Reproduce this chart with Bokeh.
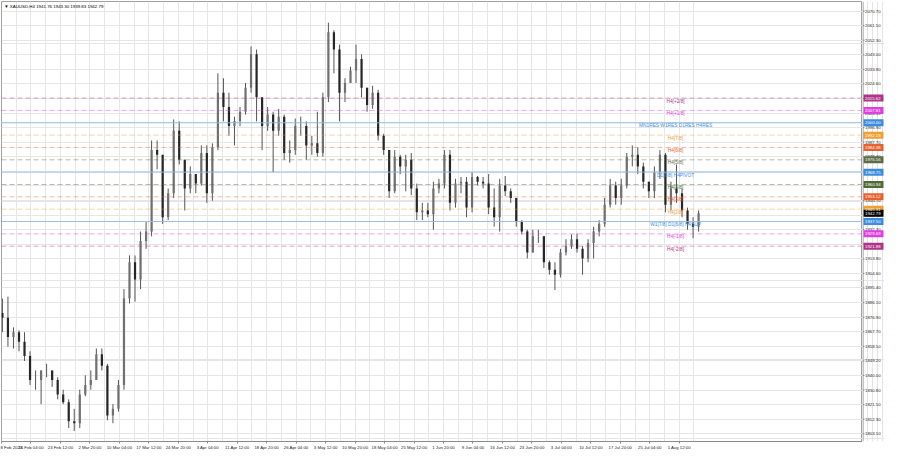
from bokeh.plotting import figure
from bokeh.layouts import row
from bokeh.models import Range1d, FixedTicker, Span, Label, ColumnDataSource, Grid
from bokeh.core.properties import value
from bokeh.embed import file_html
from bokeh.resources import INLINE

# ---- XAUUSD price path (one candle per trading day) ----
first_open = 1879.6
high = [1888.7, 1889.9, 1870.5, 1868.6, 1867.4, 1855.3, 1843.2, 1843.2, 1847.4, 1843.2,
        1838.9, 1831.0, 1824.9, 1818.9, 1831.0, 1840.1, 1843.2, 1857.1, 1857.1, 1847.4,
        1821.9, 1837.1, 1894.7, 1916.0, 1916.0, 1931.1, 1937.2, 1988.8, 1988.8, 1979.7,
        1958.4, 2002.1, 2000.9, 1976.6, 1972.4, 1967.5, 1985.7, 1985.7, 1987.0, 2031.3,
        2028.2, 2019.1, 2003.9, 2010.0, 2025.2, 2048.3, 2046.4, 2016.1, 2010.0, 2007.0,
        2008.8, 2005.2, 1988.8, 2002.7, 2003.9, 2000.9, 1991.8, 2007.0, 2019.1, 2063.4,
        2058.6, 2049.5, 2028.2, 2035.5, 2049.5, 2043.4, 2022.2, 2023.4, 2020.9, 1993.0,
        1982.7, 1982.7, 1979.7, 1979.7, 1980.9, 1961.5, 1949.3, 1949.3, 1962.7, 1964.5,
        1982.7, 1982.7, 1964.5, 1965.7, 1965.7, 1968.8, 1966.3, 1965.7, 1967.5, 1958.4,
        1964.5, 1966.3, 1958.4, 1952.4, 1938.4, 1932.3, 1932.3, 1932.3, 1928.1, 1912.9,
        1911.7, 1920.2, 1926.3, 1929.3, 1929.9, 1922.0, 1926.3, 1934.2, 1938.4, 1952.4,
        1964.5, 1962.7, 1964.5, 1980.9, 1985.7, 1984.5, 1974.8, 1962.7, 1972.4, 1982.7,
        1980.9, 1962.7, 1973.6, 1958.4, 1946.3, 1940.2, 1944.5]
low = [1867.4, 1858.3, 1857.1, 1855.3, 1849.2, 1834.0, 1831.0, 1821.9, 1838.9, 1832.8,
       1824.9, 1821.9, 1806.7, 1804.9, 1806.7, 1826.8, 1831.0, 1837.1, 1843.2, 1811.6,
       1809.8, 1817.1, 1831.0, 1885.6, 1886.8, 1894.7, 1920.2, 1928.1, 1970.6, 1936.0,
       1938.4, 1952.4, 1973.6, 1944.5, 1955.4, 1955.4, 1960.3, 1949.3, 1950.6, 1982.7,
       2000.9, 1991.8, 1985.7, 1997.9, 2005.2, 2019.1, 2000.9, 1982.7, 1994.9, 1968.8,
       1991.8, 1976.6, 1974.8, 1979.7, 1991.8, 1976.6, 1979.7, 1978.5, 1978.5, 2013.1,
       2031.3, 2000.9, 2013.1, 2025.2, 2025.2, 2016.1, 2007.0, 2008.8, 1988.8, 1979.7,
       1952.4, 1955.4, 1967.5, 1956.6, 1954.2, 1938.4, 1938.4, 1940.2, 1932.3, 1955.4,
       1958.4, 1944.5, 1946.3, 1955.4, 1940.2, 1943.3, 1960.3, 1958.4, 1942.1, 1934.2,
       1931.1, 1953.6, 1949.3, 1934.2, 1929.3, 1914.1, 1917.8, 1923.9, 1908.1, 1903.8,
       1894.1, 1902.0, 1916.0, 1920.2, 1917.8, 1903.8, 1911.7, 1914.1, 1928.1, 1934.2,
       1946.3, 1948.1, 1948.1, 1958.4, 1972.4, 1967.5, 1958.4, 1952.4, 1952.4, 1964.5,
       1943.3, 1944.5, 1949.3, 1940.2, 1932.3, 1926.9, 1931.1]
close = [1876.5, 1864.4, 1867.4, 1861.4, 1852.3, 1837.1, 1837.1, 1843.2, 1843.2, 1837.1,
         1828.0, 1823.1, 1811.0, 1809.8, 1828.0, 1834.0, 1837.1, 1853.5, 1846.2, 1814.6,
         1818.9, 1834.0, 1888.7, 1911.7, 1900.8, 1925.1, 1931.1, 1982.7, 1979.7, 1940.2,
         1955.4, 1994.9, 1976.6, 1958.4, 1967.5, 1961.5, 1980.9, 1955.4, 1984.5, 2019.1,
         2010.0, 1997.9, 2000.9, 2007.0, 2022.2, 2043.4, 2016.1, 1997.9, 2005.2, 1994.9,
         2003.9, 1980.9, 1982.7, 1997.9, 1997.9, 1985.7, 1987.0, 1980.9, 2016.1, 2057.3,
         2046.4, 2019.1, 2025.2, 2033.1, 2040.4, 2022.2, 2011.2, 2019.1, 1991.8, 1982.7,
         1956.6, 1978.5, 1972.4, 1976.6, 1958.4, 1943.3, 1944.5, 1942.1, 1958.4, 1961.5,
         1979.7, 1949.3, 1961.5, 1962.7, 1946.3, 1965.7, 1962.7, 1961.5, 1946.3, 1940.2,
         1960.3, 1956.6, 1952.4, 1937.2, 1931.1, 1917.8, 1928.1, 1928.1, 1911.7, 1906.9,
         1903.8, 1917.8, 1922.0, 1926.3, 1920.2, 1914.1, 1923.9, 1931.1, 1936.0, 1948.1,
         1960.3, 1952.4, 1960.3, 1978.5, 1979.7, 1972.4, 1962.7, 1956.6, 1968.8, 1979.7,
         1948.1, 1958.4, 1955.4, 1944.5, 1936.0, 1934.2, 1942.79]

# last H4 bar shown in the header
last_bar = [1941.76, 1943.30, 1939.83, 1942.79]

time_tick_labels = ["8 Feb 2023", "16 Feb 04:00", "23 Feb 12:00", "2 Mar 20:00", "10 Mar 04:00",
                    "17 Mar 12:00", "24 Mar 20:00", "3 Apr 04:00", "11 Apr 12:00", "18 Apr 20:00",
                    "26 Apr 04:00", "3 May 12:00", "10 May 20:00", "18 May 04:00", "25 May 12:00",
                    "1 Jun 20:00", "9 Jun 04:00", "16 Jun 12:00", "23 Jun 20:00", "3 Jul 04:00",
                    "10 Jul 12:00", "17 Jul 20:00", "25 Jul 04:00", "1 Aug 12:00"]

price_ticks = [2070.70, 2061.50, 2052.30, 2043.00, 2033.80, 2024.60, 2015.40, 2006.10, 1996.90,
               1987.70, 1978.40, 1969.20, 1960.00, 1950.70, 1941.50, 1932.30, 1923.10, 1913.80,
               1904.60, 1895.40, 1886.10, 1876.90, 1867.70, 1858.50, 1849.20, 1840.00, 1830.80,
               1821.50, 1812.30, 1803.10]

level_price = [2015.62, 2007.81, 2000.00, 1992.19, 1984.38, 1976.56, 1968.75, 1960.94,
               1953.12, 1945.31, 1937.50, 1929.69, 1921.88]
level_name = ["H4[+2/8]", "H4[+1/8]", "MN1RES W1RES D1RES H4RES", "H4[7/8]", "H4[6/8]",
              "H4[5/8]", "D1[7/8] H4PIVOT", "H4[4/8]", "H4[3/8]", "H4[2/8]",
              "W1[7/8] D1[6/8] H4SUP", "H4[-1/8]", "H4[-2/8]"]
level_kind = ["mm", "mm", "sr", "mm", "mm", "mm", "sr", "mm", "mm", "mm", "sr", "mm", "mm"]

# ---- styles ----
level_color = ["#B0338A", "#E03EE0", "#3A8DDE", "#F0A030", "#E8602C", "#5F6B45", "#3A8DDE",
               "#4F6B35", "#E8602C", "#F0A030", "#3A8DDE", "#E03EE0", "#B0338A"]
FONT = "Liberation Sans"
bars_per_candle = 6
bars_per_time_tick = 32
grid_col = "#E6E6E6"
axis_col = "#8A8A8A"
Y_RANGE = Range1d(1798.2, 2076.8)

n = len(close)
opens = [first_open] + close[:-1]
xs = [bars_per_candle * i + 1 for i in range(n)]
src = ColumnDataSource(dict(
    x=xs, h=high, l=low,
    top=[max(o, c) for o, c in zip(opens, close)],
    bottom=[min(o, c) for o, c in zip(opens, close)],
    color=["#707070" if c >= o else "#262626" for o, c in zip(opens, close)],
))

# ---------------- main chart ----------------
p = figure(width=862, height=452, x_range=Range1d(0, 935), y_range=Y_RANGE,
           y_axis_location=None, output_backend="svg", toolbar_location=None,
           min_border_left=1, min_border_top=1, min_border_right=0, min_border_bottom=9)
p.background_fill_color = "white"
p.border_fill_color = "white"
p.outline_line_color = "#A0A0A0"

tick_pos = [bars_per_time_tick * j for j in range(len(time_tick_labels))]
minor_pos = [t + bars_per_time_tick // 2 for t in tick_pos]
p.xaxis.ticker = FixedTicker(ticks=tick_pos, minor_ticks=minor_pos)
p.xaxis.major_label_overrides = {t: lab for t, lab in zip(tick_pos, time_tick_labels)}
p.xgrid.grid_line_color = grid_col
p.xgrid.minor_grid_line_color = grid_col
p.add_layout(Grid(dimension=1, ticker=FixedTicker(ticks=price_ticks), grid_line_color=grid_col))

ax = p.xaxis[0]
ax.axis_line_color = axis_col
ax.major_tick_line_color = axis_col
ax.major_tick_out = 2
ax.major_tick_in = 0
ax.minor_tick_out = 0
ax.minor_tick_in = 0
ax.major_label_text_font = FONT
ax.major_label_text_font_size = "4.3px"
ax.major_label_text_color = "#222222"
ax.major_label_standoff = 1
ax.major_label_text_align = "left"

for price, kind, col in zip(level_price, level_kind, level_color):
    if kind == "sr":
        p.add_layout(Span(location=price, dimension="width", line_color="#8FBBE6",
                          line_width=1, line_alpha=0.9))
    else:
        p.add_layout(Span(location=price, dimension="width", line_color=col,
                          line_width=1, line_alpha=0.45, line_dash="5 3"))

p.segment(x0="x", y0="l", x1="x", y1="h", source=src, line_color="#555555", line_width=1)
p.vbar(x="x", width=2.4, top="top", bottom="bottom", source=src,
       fill_color="color", line_color=None)

label_x = xs[-1] - 25
p.text(x=[label_x] * len(level_name), y=level_price, text=level_name,
       text_color=level_color, text_font=value(FONT), text_font_size="4.8px",
       text_align="center", text_baseline="middle", y_offset=3)

p.add_layout(Label(x=3, y=Y_RANGE.end, y_offset=-4.5, text="\u25bc XAUUSD,H4  " +
                   " ".join(f"{v:.2f}" for v in last_bar),
                   text_color="black", text_font=FONT, text_font_size="4.4px",
                   text_baseline="middle", text_align="left"))

# ---------------- price scale ----------------
s = figure(width=22, height=452, x_range=Range1d(0, 22), y_range=Y_RANGE,
           x_axis_location=None, y_axis_location=None, output_backend="svg",
           toolbar_location=None, min_border_left=0, min_border_right=0,
           min_border_top=1, min_border_bottom=9)
s.background_fill_color = "white"
s.border_fill_color = "white"
s.outline_line_color = None
s.add_layout(Span(location=0.5, dimension="height", line_color=axis_col, line_width=1))
s.segment(x0=[0] * len(price_ticks), x1=[2] * len(price_ticks), y0=price_ticks, y1=price_ticks,
          line_color=axis_col, line_width=1)
s.text(x=[2.5] * len(price_ticks), y=price_ticks, text=[f"{v:.2f}" for v in price_ticks],
       text_color="#222222", text_font=value(FONT), text_font_size="4.3px",
       text_align="left", text_baseline="middle")

box_price = level_price + [close[-1]]
box_color = level_color + ["#000000"]
s.rect(x=[11] * len(box_price), y=box_price, width=20, height=7, height_units="screen",
       fill_color=box_color, line_color=None)
s.text(x=[2.5] * len(box_price), y=box_price, text=[f"{v:.2f}" for v in box_price],
       text_color="white", text_font=value(FONT), text_font_size="4.3px",
       text_align="left", text_baseline="middle")

layout = row(p, s)
open("out.html", "w").write(file_html(layout, INLINE))
